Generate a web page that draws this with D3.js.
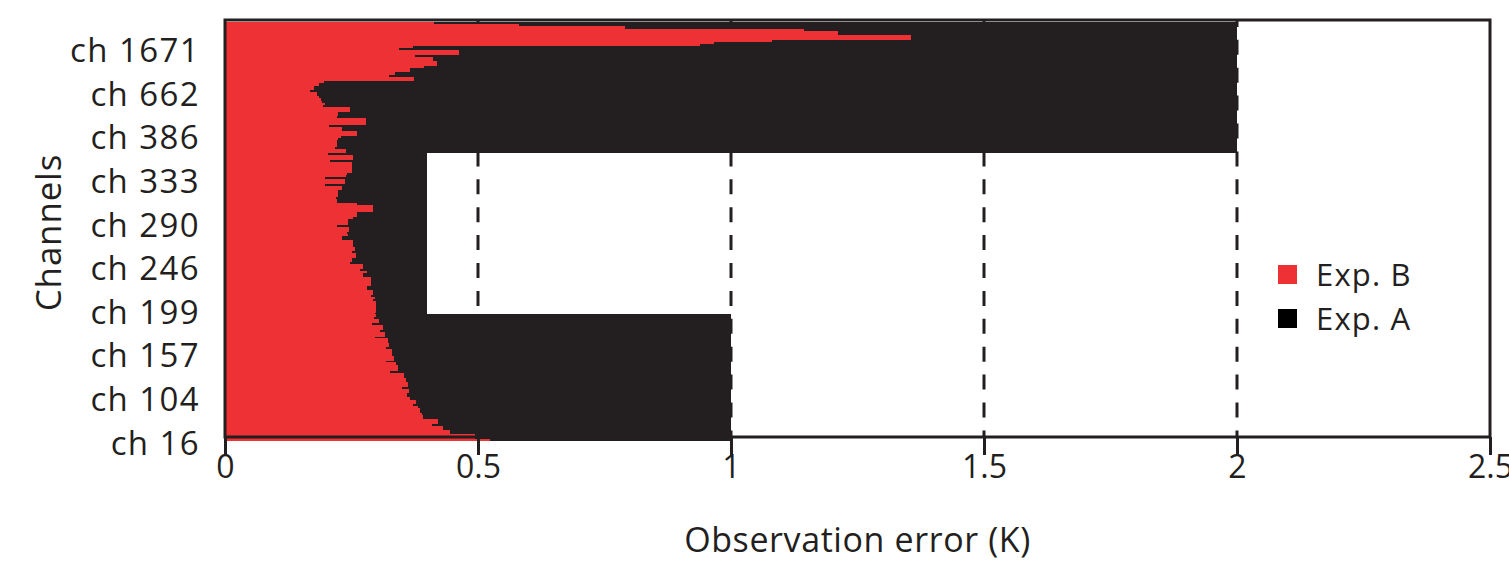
<!DOCTYPE html>
<html>
<head>
<meta charset="utf-8">
<script src="https://cdn.jsdelivr.net/npm/d3@7/dist/d3.min.js"></script>
<style>
  html, body { margin: 0; padding: 0; background: #ffffff; }
  svg text { font-family: "Open Sans", "Noto Sans", sans-serif; fill: #231f20; }
</style>
</head>
<body>
<svg id="chart" width="1509" height="568"></svg>
<script>
// Observation error per channel, ordered from the bottom channel (ch 16) upwards.
// Exp. A: prescribed error (K)
const expA = [
  1, 1, 1, 1, 1, 1, 1, 1, 1, 1,
  1, 1, 1, 1, 1, 1, 1, 1, 1, 1,
  1, 1, 1, 1, 1, 1, 1, 1, 1, 1,
  1, 1, 1, 1, 1, 1, 1, 1, 1, 1,
  1, 1, 1, 1, 1, 1, 1, 1, 1, 1,
  1, 1, 1, 1, 1, 1, 1, 1,
  0.4, 0.4, 0.4, 0.4, 0.4, 0.4, 0.4, 0.4, 0.4, 0.4,
  0.4, 0.4, 0.4, 0.4, 0.4, 0.4, 0.4, 0.4, 0.4, 0.4,
  0.4, 0.4, 0.4, 0.4, 0.4, 0.4, 0.4, 0.4, 0.4, 0.4,
  0.4, 0.4, 0.4, 0.4, 0.4, 0.4, 0.4, 0.4, 0.4, 0.4,
  0.4, 0.4, 0.4, 0.4, 0.4, 0.4, 0.4, 0.4, 0.4, 0.4,
  0.4, 0.4, 0.4, 0.4, 0.4, 0.4, 0.4, 0.4, 0.4, 0.4,
  0.4, 0.4, 0.4, 0.4, 0.4, 0.4, 0.4, 0.4, 0.4, 0.4,
  0.4, 0.4, 0.4, 0.4,
  2, 2, 2, 2, 2, 2, 2, 2, 2, 2,
  2, 2, 2, 2, 2, 2, 2, 2, 2, 2,
  2, 2, 2, 2, 2, 2, 2, 2, 2, 2,
  2, 2, 2, 2, 2, 2, 2, 2, 2, 2,
  2, 2, 2, 2, 2, 2, 2, 2, 2, 2,
  2, 2, 2, 2, 2, 2, 2, 2, 2, 2
];

// Exp. B: diagnosed error (K)
const expB = [
  0.524, 0.494, 0.494, 0.445, 0.445, 0.431, 0.431, 0.409, 0.421, 0.421,
  0.391, 0.391, 0.389, 0.385, 0.385, 0.381, 0.372, 0.377, 0.377, 0.366,
  0.360, 0.360, 0.364, 0.364, 0.350, 0.362, 0.362, 0.358, 0.358, 0.354,
  0.354, 0.326, 0.342, 0.342, 0.342, 0.338, 0.318, 0.334, 0.334, 0.330,
  0.330, 0.330, 0.318, 0.324, 0.324, 0.322, 0.322, 0.296, 0.316, 0.316,
  0.306, 0.312, 0.312, 0.291, 0.304, 0.304, 0.294, 0.298,
  0.296, 0.298, 0.298, 0.298, 0.298, 0.298, 0.292, 0.296, 0.289, 0.292,
  0.292, 0.281, 0.281, 0.289, 0.289, 0.289, 0.289, 0.273, 0.273, 0.281,
  0.267, 0.273, 0.273, 0.247, 0.251, 0.251, 0.259, 0.259, 0.251, 0.257,
  0.257, 0.253, 0.253, 0.253, 0.231, 0.231, 0.243, 0.241, 0.245, 0.245,
  0.221, 0.243, 0.243, 0.243, 0.253, 0.261, 0.261, 0.292, 0.292, 0.292,
  0.261, 0.221, 0.221, 0.219, 0.223, 0.223, 0.223, 0.231, 0.231, 0.198,
  0.237, 0.237, 0.198, 0.239, 0.241, 0.251, 0.251, 0.251, 0.251, 0.251,
  0.208, 0.253, 0.253, 0.204,
  0.239, 0.239, 0.217, 0.221, 0.221, 0.221, 0.223, 0.229, 0.261, 0.261,
  0.231, 0.231, 0.206, 0.279, 0.279, 0.279, 0.221, 0.223, 0.223, 0.247,
  0.247, 0.194, 0.198, 0.192, 0.190, 0.186, 0.182, 0.182, 0.168, 0.176,
  0.176, 0.186, 0.196, 0.374, 0.374, 0.324, 0.336, 0.366, 0.366, 0.393,
  0.419, 0.419, 0.411, 0.411, 0.375, 0.462, 0.462, 0.344, 0.372, 0.939,
  0.966, 1.081, 1.356, 1.356, 1.211, 1.211, 1.144, 0.791, 0.581, 0.413
];

// Labelled channels and their position in the channel list
const channelTickIndex  = [0, 20, 40, 60, 80, 100, 120, 140, 160, 180];
const channelTickLabels = ["ch 16", "ch 104", "ch 157", "ch 199", "ch 246",
                           "ch 290", "ch 333", "ch 386", "ch 662", "ch 1671"];

const errorTicks = [0, 0.5, 1, 1.5, 2, 2.5];
const guideLines = [0.5, 1, 1.5, 2];

const seriesNames = ["Exp. B", "Exp. A"];

const RED = "#ee3134";
const DARK = "#231f20";

const svg = d3.select("#chart");

const frame = { left: 225, right: 1490, top: 20, bottom: 437 };

const x = d3.scaleLinear().domain([0, 2.5]).range([frame.left, frame.right]);
const y = d3.scaleBand()
  .domain(d3.range(expB.length))
  .range([441, 22])
  .padding(0);

// dashed guides behind the bars
svg.append("g")
  .selectAll("line")
  .data(guideLines)
  .join("line")
  .attr("x1", d => x(d)).attr("x2", d => x(d))
  .attr("y1", frame.top).attr("y2", frame.bottom)
  .attr("stroke", DARK)
  .attr("stroke-width", 3)
  .attr("stroke-dasharray", "15 12.9")
  .attr("stroke-dashoffset", 8.1);

// Exp. A bars
svg.append("g")
  .attr("shape-rendering", "crispEdges")
  .selectAll("rect")
  .data(expA)
  .join("rect")
  .attr("x", x(0))
  .attr("y", (d, i) => y(i))
  .attr("width", d => x(d) - x(0))
  .attr("height", y.bandwidth() + 0.3)
  .attr("fill", DARK);

// Exp. B bars
svg.append("g")
  .attr("shape-rendering", "crispEdges")
  .selectAll("rect")
  .data(expB)
  .join("rect")
  .attr("x", x(0))
  .attr("y", (d, i) => y(i))
  .attr("width", d => x(d) - x(0))
  .attr("height", y.bandwidth() + 0.3)
  .attr("fill", RED);

// plot frame
svg.append("rect")
  .attr("x", frame.left).attr("y", frame.top)
  .attr("width", frame.right - frame.left)
  .attr("height", frame.bottom - frame.top)
  .attr("fill", "none")
  .attr("stroke", DARK)
  .attr("stroke-width", 3);

// x axis
const xAxis = d3.axisBottom(x)
  .tickValues(errorTicks)
  .tickFormat(d3.format("~g"))
  .tickSize(18)
  .tickPadding(8);

const gx = svg.append("g")
  .attr("transform", `translate(0,${frame.bottom})`)
  .call(xAxis);
gx.select(".domain").remove();
gx.selectAll(".tick line").attr("stroke", DARK).attr("stroke-width", 3);
gx.selectAll(".tick text")
  .attr("fill", DARK)
  .style("font-size", "32px")
  .attr("y", 29)
  .attr("dy", "0.36em")
  .style("font-family", "\"Open Sans\", sans-serif");

// channel labels
const gy = svg.append("g");
gy.selectAll("text")
  .data(channelTickIndex)
  .join("text")
  .attr("x", 200)
  .attr("y", (d) => y(d) + y.bandwidth() / 2 + 3)
  .attr("dy", "0.36em")
  .attr("text-anchor", "end")
  .style("font-size", "33px")
  .style("letter-spacing", "1.4px")
  .text((d, i) => channelTickLabels[i]);

// axis titles
svg.append("text")
  .attr("x", (frame.left + frame.right) / 2)
  .attr("y", 540)
  .attr("dy", "0.36em")
  .attr("text-anchor", "middle")
  .style("font-size", "34px")
  .style("letter-spacing", "0.6px")
  .text("Observation error (K)");

svg.append("text")
  .attr("transform", `translate(48,${(frame.top + frame.bottom) / 2 + 4}) rotate(-90)`)
  .attr("dy", "0.36em")
  .attr("text-anchor", "middle")
  .style("font-size", "35px")
  .style("letter-spacing", "0.8px")
  .text("Channels");

// legend
const legend = svg.append("g").attr("transform", "translate(1278,265)");
const legendColors = [RED, "#000000"];
const items = legend.selectAll("g")
  .data(seriesNames)
  .join("g")
  .attr("transform", (d, i) => `translate(0,${i * 44})`);
items.append("rect")
  .attr("width", 19).attr("height", 19)
  .attr("fill", (d, i) => legendColors[i]);
items.append("text")
  .attr("x", 38)
  .attr("y", 9.5)
  .attr("dy", "0.36em")
  .style("font-size", "31px")
  .style("letter-spacing", "1.2px")
  .text(d => d);
</script>
</body>
</html>
